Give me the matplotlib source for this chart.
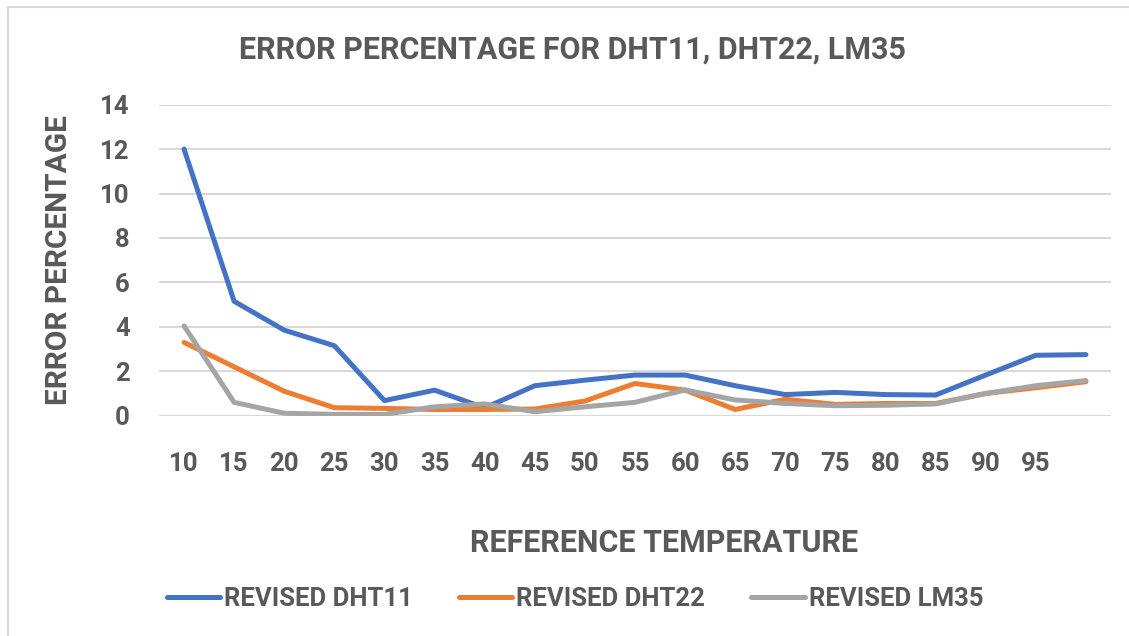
import matplotlib
matplotlib.use("Agg")
import matplotlib.pyplot as plt
from matplotlib.lines import Line2D
import numpy as np

# ---- data ----
categories = ["10", "15", "20", "25", "30", "35", "40", "45", "50", "55",
              "60", "65", "70", "75", "80", "85", "90", "95", ""]
dht11 = [12.0, 5.15, 3.85, 3.15, 0.68, 1.15, 0.35, 1.35, 1.6, 1.83,
         1.83, 1.35, 0.95, 1.05, 0.95, 0.93, 1.83, 2.72, 2.75]
dht22 = [3.3, 2.2, 1.1, 0.36, 0.33, 0.28, 0.28, 0.3, 0.66, 1.45,
         1.15, 0.28, 0.74, 0.51, 0.55, 0.55, 1.0, 1.26, 1.53]
lm35 = [4.04, 0.6, 0.11, 0.06, 0.06, 0.4, 0.53, 0.18, 0.4, 0.6,
        1.16, 0.71, 0.55, 0.45, 0.47, 0.53, 1.0, 1.35, 1.58]
series_names = ["REVISED DHT11", "REVISED DHT22", "REVISED LM35"]
title = "ERROR PERCENTAGE FOR DHT11, DHT22, LM35"
xlabel = "REFERENCE TEMPERATURE"
ylabel = "ERROR PERCENTAGE"
yticks = [0, 2, 4, 6, 8, 10, 12, 14]

# ---- style ----
TXT = "#595959"
GRID = "#D9D9D9"
colors = ["#4472C4", "#ED7D31", "#A5A5A5"]
plt.rcParams['font.family'] = ['Roboto', 'DejaVu Sans']
plt.rcParams['font.weight'] = 'bold'

W, H = 1129, 636
fig = plt.figure(figsize=(W / 100, H / 100), dpi=100)
fig.patch.set_facecolor("white")

ax_l, ax_r, ax_t, ax_b = 159, 1111, 104.7, 415.7
ax = fig.add_axes([ax_l / W, 1 - ax_b / H, (ax_r - ax_l) / W, (ax_b - ax_t) / H])

x = np.arange(len(categories))
for vals, c, name in zip([dht11, dht22, lm35], colors, series_names):
    ax.plot(x, vals, color=c, lw=3.6, solid_capstyle='round',
            solid_joinstyle='round', label=name, zorder=3)

ax.set_xlim(-0.5, len(categories) - 0.5)
ax.set_ylim(0, 14)
ax.set_yticks(yticks)
ax.set_yticklabels([str(v) for v in yticks])
ax.set_xticks(x)
ax.set_xticklabels(categories)
ax.grid(axis='y', color=GRID, lw=1.5, zorder=0)
ax.grid(axis='x', visible=False)
for s in ax.spines.values():
    s.set_visible(False)
ax.tick_params(axis='both', length=0, colors=TXT, labelsize=18.5)
ax.tick_params(axis='y', pad=21)
ax.tick_params(axis='x', pad=26)
for lab in ax.get_xticklabels() + ax.get_yticklabels():
    lab.set_fontweight('bold')
    lab.set_color(TXT)

ax.set_ylabel(ylabel, fontsize=21.5, fontweight='bold', color=TXT, va='center')
ax.yaxis.set_label_coords((59 - ax_l) / (ax_r - ax_l), 0.5)
ax.set_xlabel(xlabel, fontsize=22, fontweight='bold', color=TXT, va='center')
ax.xaxis.set_label_coords((664 - ax_l) / (ax_r - ax_l), (ax_b - 543) / (ax_b - ax_t))

fig.text(572.5 / W, 1 - 50 / H, title, ha='center', va='center',
         fontsize=22, fontweight='bold', color=TXT)

leg = fig.legend(loc='center', bbox_to_anchor=(575 / W, 1 - 599 / H), ncol=3,
                 frameon=False, fontsize=18.5, handlelength=2.08,
                 handletextpad=0.15, columnspacing=1.8)
for t in leg.get_texts():
    t.set_color(TXT)
    t.set_fontweight('bold')

# chart border
fig.add_artist(Line2D([8 / W, 8 / W], [0, 1 - 8 / H], transform=fig.transFigure,
                      color=GRID, lw=1.5))
fig.add_artist(Line2D([8 / W, 1], [1 - 7 / H, 1 - 7 / H], transform=fig.transFigure,
                      color=GRID, lw=1.5))

fig.savefig("out.png", dpi=100, facecolor="white")
